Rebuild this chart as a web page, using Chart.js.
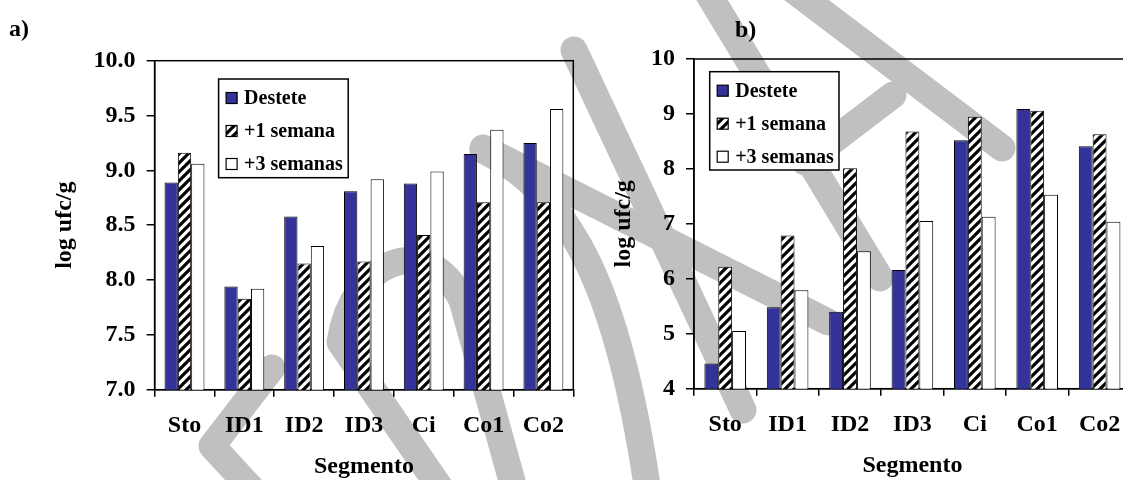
<!DOCTYPE html>
<html>
<head>
<meta charset="utf-8">
<script src="https://cdn.jsdelivr.net/npm/chart.js@4.4.1/dist/chart.umd.min.js"></script>
<style>
  html, body { margin: 0; padding: 0; background: #fff; overflow: hidden; }
  #wrap { position: relative; width: 1123px; height: 480px; overflow: hidden; }
  #marca { position: absolute; left: 0; top: 0; z-index: 0; }
  canvas { position: absolute; top: 0; z-index: 1; }
  #chartA { left: 0; }
  #chartB { left: 580px; }
  .panel { position: absolute; z-index: 2; font: bold 24px "Liberation Serif", "Times New Roman", serif; line-height: 24px; color: #000; }
</style>
</head>
<body>
<div id="wrap">
  <!-- background watermark strokes (decoration only) -->
  <svg id="marca" width="1123" height="480">
    <g fill="none" stroke="#c0c0c0" stroke-width="27" stroke-linecap="round" stroke-linejoin="round">
      <path d="M272,368 L212,446 L262,500"/>
      <path d="M443,492 L340,342 C352,262 425,228 462,300 L515,492"/>
      <path d="M483,150 C575,195 620,300 648,492"/>
      <path d="M483,148 L828,322"/>
      <path d="M574,50 L743,410"/>
      <path d="M700,-20 L880,278"/>
      <path d="M780,-20 L1002,148"/>
      <path d="M893,95 L805,162"/>
    </g>
  </svg>
  <div class="panel" style="left:9px; top:16px;">a)</div>
  <div class="panel" style="left:735px; top:17px;">b)</div>
  <canvas id="chartA" width="590" height="480"></canvas>
  <canvas id="chartB" width="560" height="480"></canvas>
</div>
<script>
// Data
const segmentos = ['Sto', 'ID1', 'ID2', 'ID3', 'Ci', 'Co1', 'Co2'];
const serieNombres = ['Destete', '+1 semana', '+3 semanas'];

// panel a)
const aDestete = [8.89, 7.94, 8.58, 8.81, 8.88, 9.15, 9.25];
const aSemana1 = [9.16, 7.83, 8.15, 8.17, 8.41, 8.71, 8.71];
const aSemana3 = [9.06, 7.92, 8.31, 8.92, 8.99, 9.37, 9.56];
const aTicks = [7.0, 7.5, 8.0, 8.5, 9.0, 9.5, 10.0];

// panel b)
const bDestete = [4.46, 5.48, 5.40, 6.16, 8.52, 9.09, 8.41];
const bSemana1 = [6.22, 6.79, 8.01, 8.68, 8.95, 9.06, 8.63];
const bSemana3 = [5.05, 5.79, 6.50, 7.05, 7.13, 7.53, 7.04];
const bTicks = [4, 5, 6, 7, 8, 9, 10];

const SERIF = '"Liberation Serif", "Times New Roman", serif';
const AZUL = '#333399';
const FS = 24;

// "/" hatch pattern for the +1 semana bars
function makeHatch() {
    const s = 9;
    const c = document.createElement('canvas');
    c.width = s; c.height = s;
    const g = c.getContext('2d');
    g.fillStyle = '#fff';
    g.fillRect(0, 0, s, s);
    g.strokeStyle = '#000';
    g.lineWidth = 3.2;
    g.beginPath();
    g.moveTo(-2, s + 2); g.lineTo(s + 2, -2);
    g.moveTo(-2, 2); g.lineTo(2, -2);
    g.moveTo(s - 2, s + 2); g.lineTo(s + 2, s - 2);
    g.stroke();
    return g.createPattern(c, 'repeat');
}
const hatch = makeHatch();

// plot area frame (top and right sides included)
const frame = {
    id: 'frame',
    beforeDatasetsDraw(chart) {
        const a = chart.chartArea, ctx = chart.ctx;
        ctx.save();
        ctx.strokeStyle = '#000';
        ctx.lineWidth = 1.5;
        ctx.strokeRect(a.left, a.top, a.right - a.left, a.bottom - a.top);
        ctx.restore();
    }
};

// legend box drawn inside the plot area
const legendBox = {
    id: 'legendBox',
    afterDatasetsDraw(chart, args, o) {
        const ctx = chart.ctx, a = chart.chartArea;
        const x = a.left + o.dx, y = a.top + o.dy;
        ctx.save();
        ctx.fillStyle = '#fff';
        ctx.fillRect(x, y, o.w, o.h);
        ctx.strokeStyle = '#000';
        ctx.lineWidth = 1.5;
        ctx.strokeRect(x, y, o.w, o.h);
        ctx.font = 'bold 20px ' + SERIF;
        ctx.textBaseline = 'middle';
        ctx.textAlign = 'left';
        chart.data.datasets.forEach((ds, i) => {
            const cy = y + 19 + i * 33;
            ctx.fillStyle = ds.backgroundColor;
            ctx.fillRect(x + 7.5, cy - 5.5, 11, 11);
            ctx.lineWidth = 1.2;
            ctx.strokeRect(x + 7.5, cy - 5.5, 11, 11);
            ctx.fillStyle = '#000';
            ctx.fillText(ds.label, x + 25.5, cy + 1);
        });
        ctx.restore();
    }
};

function buildChart(id, series, ticks, opts) {
    const ctx = document.getElementById(id).getContext('2d');
    const fills = [AZUL, hatch, '#ffffff'];
    return new Chart(ctx, {
        type: 'bar',
        data: {
            labels: segmentos,
            datasets: series.map((d, i) => ({
                label: serieNombres[i],
                data: d,
                backgroundColor: fills[i],
                borderColor: '#000',
                borderWidth: 1,
                borderSkipped: false,
                categoryPercentage: 0.667,
                barPercentage: 1.0
            }))
        },
        options: {
            responsive: false,
            animation: false,
            layout: { padding: opts.padding },
            plugins: {
                legend: { display: false },
                tooltip: { enabled: false },
                legendBox: opts.legend
            },
            scales: {
                x: {
                    offset: true,
                    grid: { display: true, offset: true, drawOnChartArea: false, drawTicks: true, tickLength: 7, color: '#000', lineWidth: 1.5 },
                    border: { display: true, color: '#000', width: 1.5 },
                    ticks: { color: '#000', padding: 15, font: { family: SERIF, size: FS, weight: 'bold' }, maxRotation: 0 },
                    title: { display: true, text: 'Segmento', color: '#000', padding: { top: 0, bottom: opts.titlePad }, font: { family: SERIF, size: FS, weight: 'bold', lineHeight: 1 } },
                    afterFit: s => { s.height = opts.xHeight; }
                },
                y: {
                    min: ticks[0],
                    max: ticks[ticks.length - 1],
                    afterBuildTicks: s => { s.ticks = ticks.map(v => ({ value: v })); },
                    grid: { display: true, drawOnChartArea: false, drawTicks: true, tickLength: 8, color: '#000', lineWidth: 1.5 },
                    border: { display: true, color: '#000', width: 1.5 },
                    ticks: { color: '#000', padding: 11, font: { family: SERIF, size: FS, weight: 'bold' }, callback: v => opts.fmt(v) },
                    title: { display: true, text: 'log ufc/g', color: '#000', padding: { top: 4, bottom: 4 }, font: { family: SERIF, size: FS, weight: 'bold', lineHeight: 1.2 } },
                    afterFit: s => { s.width = opts.yWidth; }
                }
            }
        },
        plugins: [frame, legendBox]
    });
}

buildChart('chartA', [aDestete, aSemana1, aSemana3], aTicks, {
    padding: { left: 46.6, right: 16.7, top: 60.7, bottom: 0 },
    yWidth: 108,
    xHeight: 90.3,
    titlePad: 1,
    fmt: v => Number(v).toFixed(1),
    legend: { dx: 64, dy: 18.3, w: 129.6, h: 98.7 }
});

buildChart('chartB', [bDestete, bSemana1, bSemana3], bTicks, {
    padding: { left: 25.3, right: 9.2, top: 59, bottom: 0 },
    yWidth: 88.7,
    xHeight: 91.3,
    titlePad: 2.5,
    fmt: v => String(v),
    legend: { dx: 15.7, dy: 12.7, w: 129.3, h: 98.3 }
});
</script>
</body>
</html>
